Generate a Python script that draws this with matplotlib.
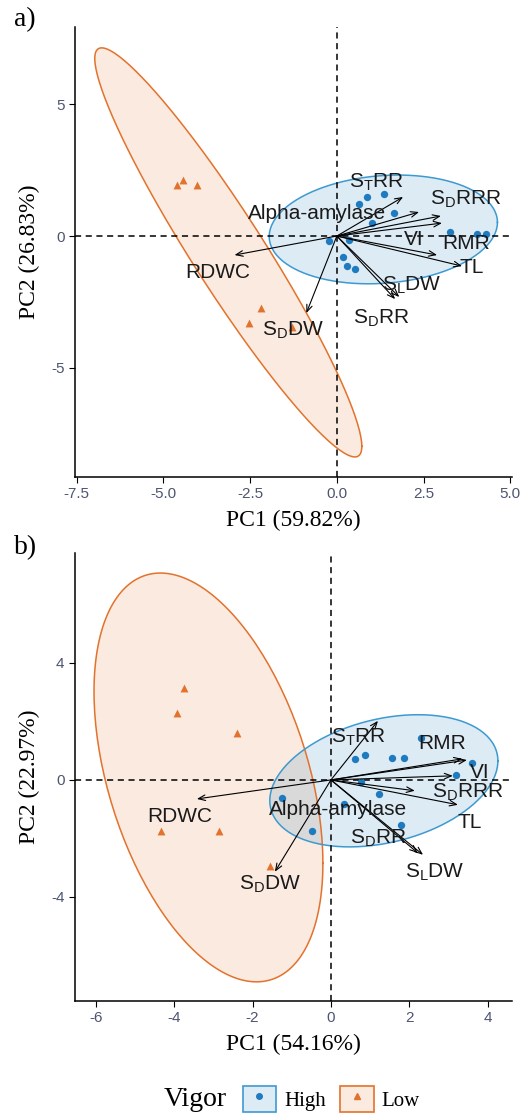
import numpy as np
import matplotlib.pyplot as plt
from matplotlib.patches import Patch
from matplotlib.lines import Line2D

plt.rcParams['mathtext.fontset'] = 'custom'
plt.rcParams['mathtext.rm'] = 'Liberation Sans'
plt.rcParams['mathtext.it'] = 'Liberation Sans'
plt.rcParams['axes.unicode_minus'] = False

BLUE = '#1f7bbf'
BLUE_EDGE = '#3d9ad1'
ORANGE = '#e2722c'

# variable names (shared by both panels)
var_labels = [r'S$_\mathrm{T}$RR', 'Alpha-amylase', r'S$_\mathrm{D}$RRR', 'RMR', 'VI', 'TL',
              'RDWC', r'S$_\mathrm{D}$DW', r'S$_\mathrm{L}$DW', r'S$_\mathrm{D}$RR']

# ---- panel a ----
a_high_x = [0.87, 1.36, 0.65, 1.65, 1.01, -0.24, 0.36, 0.19, 0.28, 0.53, 3.26, 4.05, 4.30]
a_high_y = [1.47, 1.59, 1.21, 0.86, 0.50, -0.19, -0.15, -0.81, -1.14, -1.24, 0.16, 0.08, 0.08]
a_low_x = [-4.61, -4.44, -4.04, -2.20, -2.54, -1.28]
a_low_y = [1.93, 2.12, 1.93, -2.73, -3.30, -3.45]
a_arrow_x = [1.91, 2.37, 3.00, 3.03, 2.89, 3.61, -2.95, -0.88, 1.80, 1.68]
a_arrow_y = [1.48, 0.91, 0.76, 0.49, -0.72, -1.14, -0.72, -2.92, -2.31, -2.39]
a_text_x = [1.14, -0.56, 3.72, 3.72, 2.23, 3.89, -3.43, -1.28, 2.17, 1.28]
a_text_y = [2.05, 0.87, 1.40, -0.27, -0.15, -1.21, -1.40, -3.56, -1.86, -3.10]
# ellipses: centre x, centre y, half-width x, half-height y, correlation
a_ell_high = [1.34, 0.25, 3.29, 2.06, 0.13]
a_ell_low = [-3.13, -0.62, 3.85, 7.75, -0.948]

# ---- panel b ----
b_high_x = [2.31, 0.61, 0.88, 1.55, 1.86, 3.61, 3.19, 0.77, 1.22, -1.26, 0.34, 1.80, -0.49]
b_high_y = [1.42, 0.71, 0.85, 0.74, 0.76, 0.59, 0.17, -0.08, -0.49, -0.63, -0.82, -1.54, -1.73]
b_low_x = [-3.75, -3.93, -2.40, -4.34, -2.86, -1.56]
b_low_y = [3.14, 2.29, 1.60, -1.74, -1.74, -2.94]
b_arrow_x = [1.20, 2.14, 3.11, 3.47, 3.35, 3.24, -3.42, -1.43, 2.35, 2.22]
b_arrow_y = [2.02, -0.37, 0.14, 0.68, 0.72, -0.85, -0.65, -3.14, -2.56, -2.50]
b_text_x = [0.69, 0.18, 3.49, 2.83, 3.80, 3.55, -3.85, -1.56, 2.65, 1.20]
b_text_y = [1.47, -1.00, -0.41, 1.23, 0.27, -1.47, -1.26, -3.56, -3.17, -2.00]
b_ell_high = [1.35, -0.03, 2.91, 2.26, 0.30]
b_ell_low = [-3.125, 0.085, 2.92, 6.99, -0.42]


def ellipse_xy(params, n=200):
    cx, cy, sx, sy, r = params
    cov = np.array([[sx * sx, r * sx * sy], [r * sx * sy, sy * sy]])
    L = np.linalg.cholesky(cov)
    t = np.linspace(0, 2 * np.pi, n)
    pts = L @ np.vstack([np.cos(t), np.sin(t)])
    return pts[0] + cx, pts[1] + cy


def draw_panel(ax, hx, hy, lx, ly, axx, axy, tx, ty, ell_h, ell_l):
    for p, col, edge in [(ell_l, ORANGE, ORANGE), (ell_h, BLUE, BLUE_EDGE)]:
        ex, ey = ellipse_xy(p)
        ax.fill(ex, ey, color=col, alpha=0.15, lw=0)
        ax.plot(ex, ey, color=edge, lw=1.1)
    ax.axhline(0, color='black', ls='--', lw=1.1, dashes=(4, 3))
    ax.axvline(0, color='black', ls='--', lw=1.1, dashes=(4, 3))
    ax.scatter(hx, hy, marker='o', s=28, color=BLUE, zorder=3, lw=0)
    ax.scatter(lx, ly, marker='^', s=32, color=ORANGE, zorder=3, lw=0)
    for x, y in zip(axx, axy):
        ax.annotate('', xy=(x, y), xytext=(0, 0),
                    arrowprops=dict(arrowstyle='->,head_length=0.5,head_width=0.2',
                                    color='black', lw=0.8, shrinkA=0, shrinkB=0), zorder=4)
    for x, y, s in zip(tx, ty, var_labels):
        ax.text(x, y, s, ha='center', va='center', fontsize=15,
                family='Liberation Sans', color='#1a1a1a', zorder=5)
    for side in ['top', 'right']:
        ax.spines[side].set_visible(False)
    for side in ['left', 'bottom']:
        ax.spines[side].set_linewidth(1.1)
    ax.tick_params(labelsize=11, colors='#4d5570', length=4)
    for lab in ax.get_xticklabels() + ax.get_yticklabels():
        lab.set_family('Liberation Sans')
    ax.tick_params(axis='both', color='black')


fig = plt.figure(figsize=(5.28, 11.13), dpi=100)
W, H = 528, 1113
ax_a = fig.add_axes([75 / W, 1 - 477 / H, 437 / W, 450 / H])
ax_b = fig.add_axes([75 / W, 1 - 1001 / H, 437 / W, 448 / H])

ax_a.set_xlim(-7.55, 5.05)
ax_a.set_ylim(-9.13, 7.92)
ax_a.set_xticks([-7.5, -5, -2.5, 0, 2.5, 5])
ax_a.set_xticklabels(['-7.5', '-5.0', '-2.5', '0.0', '2.5', '5.0'])
ax_a.set_yticks([-5, 0, 5])
draw_panel(ax_a, a_high_x, a_high_y, a_low_x, a_low_y, a_arrow_x, a_arrow_y,
           a_text_x, a_text_y, a_ell_high, a_ell_low)
ax_a.set_xlabel('PC1 (59.82%)', family='Liberation Serif', fontsize=17, labelpad=6)
ax_a.set_ylabel('PC2 (26.83%)', family='Liberation Serif', fontsize=17, labelpad=8)

ax_b.set_xlim(-6.53, 4.62)
ax_b.set_ylim(-7.56, 7.76)
ax_b.set_xticks([-6, -4, -2, 0, 2, 4])
ax_b.set_yticks([-4, 0, 4])
draw_panel(ax_b, b_high_x, b_high_y, b_low_x, b_low_y, b_arrow_x, b_arrow_y,
           b_text_x, b_text_y, b_ell_high, b_ell_low)
ax_b.set_xlabel('PC1 (54.16%)', family='Liberation Serif', fontsize=17, labelpad=6)
ax_b.set_ylabel('PC2 (22.97%)', family='Liberation Serif', fontsize=17, labelpad=8)

fig.text(14 / W, 1 - 20 / H, 'a)', family='Liberation Serif', fontsize=20, va='center')
fig.text(14 / W, 1 - 548 / H, 'b)', family='Liberation Serif', fontsize=20, va='center')

# legend
fig.text(195 / W, 1 - 1099 / H, 'Vigor', family='Liberation Serif', fontsize=20,
         ha='center', va='center')
h_high = (Patch(facecolor=BLUE, alpha=0.15, edgecolor='none'),
          Patch(facecolor='none', edgecolor=BLUE_EDGE, lw=1.2),
          Line2D([], [], marker='o', color=BLUE, ls='', markersize=4))
h_low = (Patch(facecolor=ORANGE, alpha=0.15, edgecolor='none'),
         Patch(facecolor='none', edgecolor=ORANGE, lw=1.2),
         Line2D([], [], marker='^', color=ORANGE, ls='', markersize=4))
fig.legend([h_high, h_low], ['High', 'Low'], loc='center left',
           bbox_to_anchor=(224 / W, 1 - 1099 / H), ncol=2, frameon=False,
           prop={'family': 'Liberation Serif', 'size': 15},
           handlelength=1.6, handleheight=1.6, columnspacing=0.7, handletextpad=0.38)

fig.savefig('out.png', dpi=100)
